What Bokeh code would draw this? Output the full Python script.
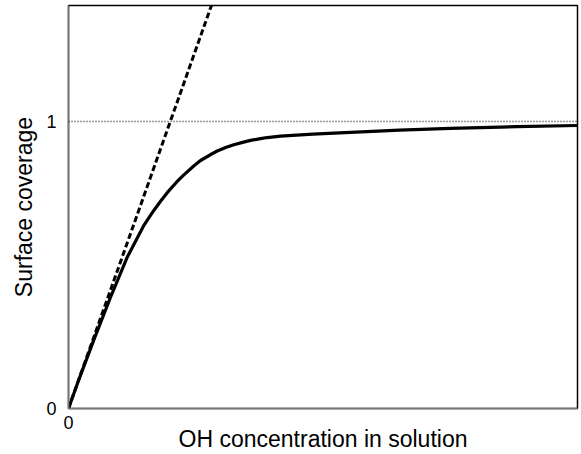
from bokeh.plotting import figure
from bokeh.models import FixedTicker, Range1d, Span
from bokeh.embed import file_html
from bokeh.resources import INLINE

# Curve (x in concentration units, dashed line slope = 1)
conc = [0.0, 0.10, 0.25, 0.41, 0.574, 0.737, 0.838, 0.904, 0.97, 1.065, 1.133,
        1.23, 1.297, 1.392, 1.461, 1.55, 1.624, 1.72, 1.788, 1.886, 1.952,
        2.083, 2.40, 2.77, 3.25, 3.75, 4.4, 5.0]
coverage = [0.0, 0.099, 0.240, 0.385, 0.525, 0.636, 0.690, 0.722, 0.752, 0.790,
            0.814, 0.845, 0.864, 0.884, 0.897, 0.910, 0.919, 0.928, 0.934, 0.940,
            0.944, 0.949, 0.956, 0.962, 0.970, 0.976, 0.982, 0.986]
# Low-coverage linear limit
lin_x = [0.0, 1.45]
lin_y = [0.0, 1.45]
saturation = 1.0
x_ticks = [0]
y_ticks = [0, 1]

FONT = "Liberation Sans"

p = figure(width=581, height=454, output_backend="svg", toolbar_location=None,
           x_range=Range1d(0, 5), y_range=Range1d(0, 1.404),
           min_border_left=68, min_border_right=4, min_border_top=5,
           min_border_bottom=46)
p.background_fill_color = "white"
p.border_fill_color = "white"
p.outline_line_color = "black"
p.outline_line_width = 1.5
p.grid.visible = False

p.line(conc, coverage, line_color="black", line_width=3.2)
p.line(lin_x, lin_y, line_color="black", line_width=3, line_dash="6 3")
p.add_layout(Span(location=saturation, dimension="width", line_color="#333333",
                  line_width=1.5, line_dash="1 2"))

for ax in (p.xaxis[0], p.yaxis[0]):
    ax.major_tick_line_color = None
    ax.minor_tick_line_color = None
    ax.axis_line_color = "#777777"
    ax.axis_line_width = 1.5
    ax.major_label_text_font = FONT
    ax.major_label_text_font_size = "18px"
    ax.major_label_text_color = "black"
    ax.axis_label_text_font = FONT
    ax.axis_label_text_font_size = "23px"
    ax.axis_label_text_font_style = "normal"
    ax.axis_label_text_color = "black"

p.xaxis.ticker = FixedTicker(ticks=x_ticks)
p.yaxis.ticker = FixedTicker(ticks=y_ticks)
p.xaxis.axis_label = "OH concentration in solution"
p.yaxis.axis_label = "Surface coverage"
p.xaxis.major_label_standoff = 1
p.yaxis.major_label_standoff = 6
p.xaxis.axis_label_standoff = -6
p.yaxis.axis_label_standoff = 6

open("out.html", "w").write(file_html(p, INLINE))
